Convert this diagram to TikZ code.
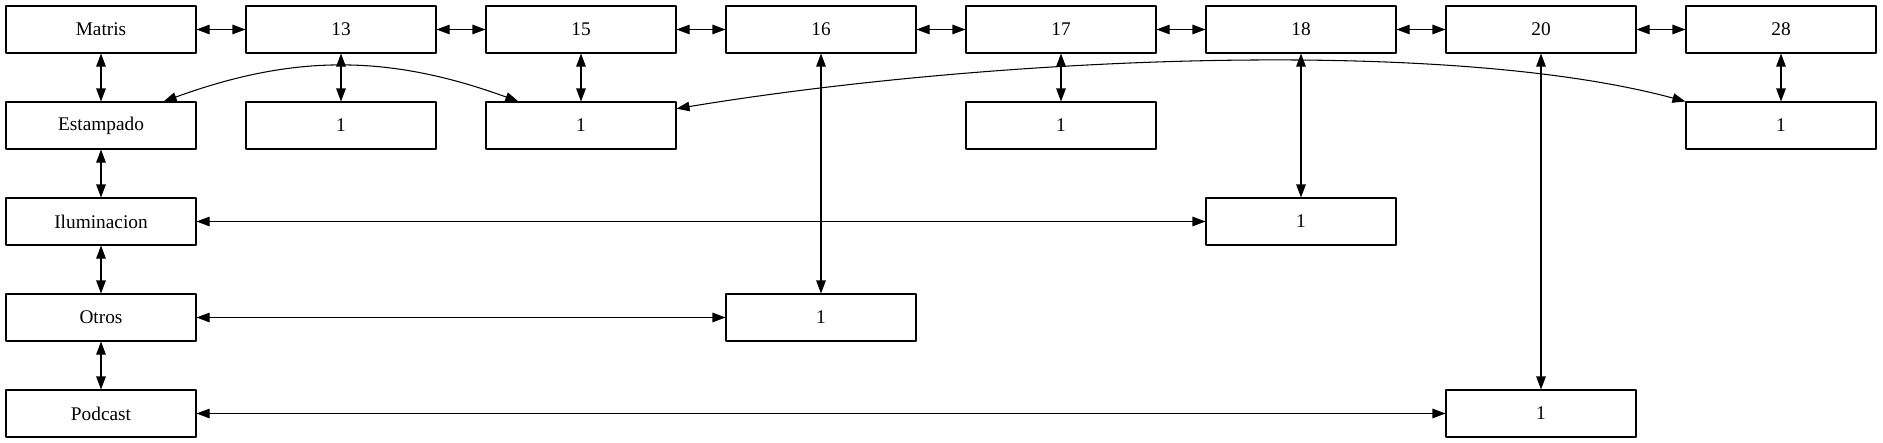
\documentclass[tikz,border=0pt]{standalone}
\usepackage{fontspec}
\setmainfont{Liberation Serif}
\usetikzlibrary{arrows.meta}

\tikzset{
	box/.style={draw, line width=0.6pt, minimum width=3.8cm, minimum height=0.94cm, inner sep=0pt, font=\fontsize{11}{13}\selectfont},
	link/.style={{Triangle[length=0.26cm,width=0.19cm]}-{Triangle[length=0.26cm,width=0.19cm]}, line width=0.6pt},
}

\begin{document}
\begin{tikzpicture}[line cap=round,line join=round,x=1.0cm,y=1.0cm]
	\useasboundingbox (0,0) rectangle (37.66,-8.86);
	% top row
	\node[box] (matris) at (2.02,-0.59) {Matris};
	\node[box] (n13) at (6.82,-0.59) {13};
	\node[box] (n15) at (11.62,-0.59) {15};
	\node[box] (n16) at (16.42,-0.59) {16};
	\node[box] (n17) at (21.22,-0.59) {17};
	\node[box] (n18) at (26.02,-0.59) {18};
	\node[box] (n20) at (30.82,-0.59) {20};
	\node[box] (n28) at (35.62,-0.59) {28};
	% categories
	\node[box] (estampado) at (2.02,-2.51) {Estampado};
	\node[box] (iluminacion) at (2.02,-4.43) {Iluminacion};
	\node[box] (otros) at (2.02,-6.35) {Otros};
	\node[box] (podcast) at (2.02,-8.27) {Podcast};
	% counts
	\node[box] (c13) at (6.82,-2.51) {1};
	\node[box] (c15) at (11.62,-2.51) {1};
	\node[box] (c17) at (21.22,-2.51) {1};
	\node[box] (c28) at (35.62,-2.51) {1};
	\node[box] (c18) at (26.02,-4.43) {1};
	\node[box] (c16) at (16.42,-6.35) {1};
	\node[box] (c20) at (30.82,-8.27) {1};
	\foreach \a/\b in {matris/n13,n13/n15,n15/n16,n16/n17,n17/n18,n18/n20,n20/n28,
		matris/estampado,estampado/iluminacion,iluminacion/otros,otros/podcast,
		n13/c13,n15/c15,n17/c17,n28/c28,n16/c16,n18/c18,n20/c20,
		iluminacion/c18,otros/c16,podcast/c20}
		\draw[link] (\a) -- (\b);
	\draw[link] (estampado.21) to[bend left=20] (c15.159);
	\draw[link] (c15.10) .. controls +(6.44,1.06) and +(-4.74,1.28) .. (c28.north west);
\end{tikzpicture}
\end{document}
